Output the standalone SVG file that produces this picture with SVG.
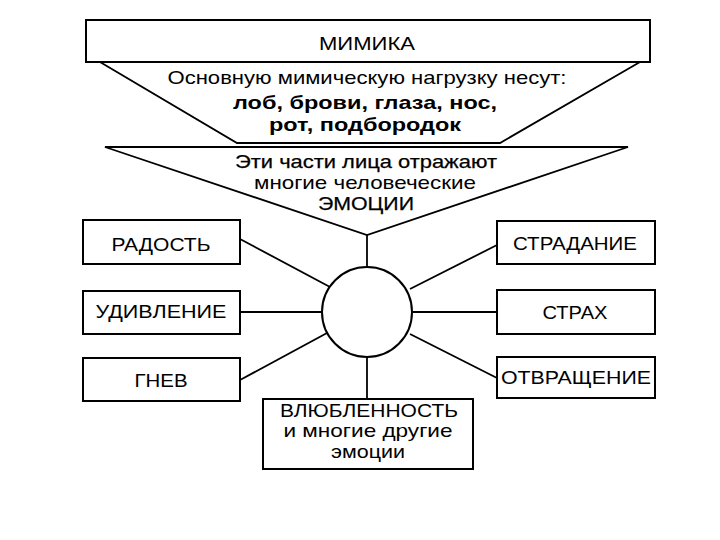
<svg xmlns="http://www.w3.org/2000/svg" width="720" height="540" viewBox="0 0 720 540">
<style>
.box{fill:#fff;stroke:#000;stroke-width:2}
.ln{fill:none;stroke:#000;stroke-width:1.8}
text{font-family:"Liberation Sans",Arial,sans-serif;font-size:19px;fill:#000;text-anchor:middle}
.b{font-weight:bold}
.sb{stroke:#000;stroke-width:0.25}
</style>
<rect width="720" height="540" fill="#fff"/>
<g id="connectors">
<path class="ln" d="M100,62 L237,143 L500,143 L640,62"/>
<path class="ln" d="M105,147 L628,147 L367,235 Z"/>
<line class="ln" x1="367" y1="235" x2="367" y2="267"/>
<line class="ln" x1="367" y1="357" x2="367" y2="399"/>
<line class="ln" x1="240" y1="239" x2="330" y2="287"/>
<line class="ln" x1="240" y1="312" x2="322" y2="312"/>
<line class="ln" x1="240" y1="380" x2="327" y2="333"/>
<line class="ln" x1="497" y1="245" x2="410" y2="289"/>
<line class="ln" x1="413" y1="312" x2="497" y2="312"/>
<line class="ln" x1="410" y1="334" x2="497" y2="378"/>
</g>
<g id="mimika">
<rect class="box" x="86" y="20" width="564" height="42"/>
<text x="367" y="50" textLength="96" lengthAdjust="spacingAndGlyphs">МИМИКА</text>
</g>
<g id="load">
<text x="367" y="84" textLength="399" lengthAdjust="spacingAndGlyphs">Основную мимическую нагрузку несут:</text>
<text class="b" x="365" y="109" textLength="264" lengthAdjust="spacingAndGlyphs">лоб, брови, глаза, нос,</text>
<text class="b" x="365" y="131" textLength="192" lengthAdjust="spacingAndGlyphs">рот, подбородок</text>
</g>
<g id="reflect">
<text class="sb" x="366" y="168" textLength="262" lengthAdjust="spacingAndGlyphs">Эти части лица отражают</text>
<text x="365" y="189" textLength="222" lengthAdjust="spacingAndGlyphs">многие человеческие</text>
<text class="sb" x="366" y="210" textLength="96" lengthAdjust="spacingAndGlyphs">ЭМОЦИИ</text>
</g>
<g id="center">
<circle class="box" cx="367" cy="312" r="45"/>
</g>
<g id="radost">
<rect class="box" x="83" y="220" width="157" height="44"/>
<text x="161" y="251" textLength="99" lengthAdjust="spacingAndGlyphs">РАДОСТЬ</text>
</g>
<g id="udivlenie">
<rect class="box" x="83" y="291" width="157" height="43"/>
<text x="161" y="318" textLength="131" lengthAdjust="spacingAndGlyphs">УДИВЛЕНИЕ</text>
</g>
<g id="gnev">
<rect class="box" x="83" y="358" width="157" height="43"/>
<text x="161" y="387" textLength="53" lengthAdjust="spacingAndGlyphs">ГНЕВ</text>
</g>
<g id="stradanie">
<rect class="box" x="497" y="221" width="158" height="43"/>
<text x="575" y="250" textLength="124" lengthAdjust="spacingAndGlyphs">СТРАДАНИЕ</text>
</g>
<g id="strah">
<rect class="box" x="497" y="290" width="158" height="44"/>
<text x="575" y="319" textLength="65" lengthAdjust="spacingAndGlyphs">СТРАХ</text>
</g>
<g id="otvraschenie">
<rect class="box" x="497" y="357" width="158" height="41"/>
<text x="576" y="384" textLength="150" lengthAdjust="spacingAndGlyphs">ОТВРАЩЕНИЕ</text>
</g>
<g id="vlyublennost">
<rect class="box" x="263" y="399" width="210" height="70"/>
<text x="369" y="417" textLength="178" lengthAdjust="spacingAndGlyphs">ВЛЮБЛЕННОСТЬ</text>
<text x="368" y="437" textLength="169" lengthAdjust="spacingAndGlyphs">и многие другие</text>
<text x="368" y="458" textLength="74" lengthAdjust="spacingAndGlyphs">эмоции</text>
</g>
</svg>
